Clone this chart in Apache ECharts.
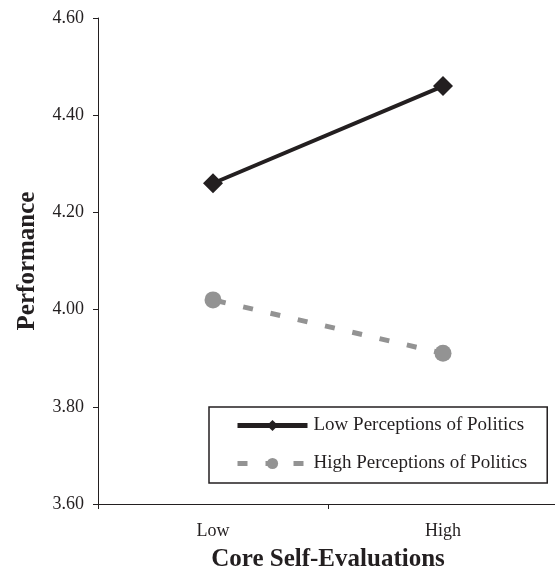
<!DOCTYPE html>
<html>
<head>
<meta charset="utf-8">
<script src="https://cdn.jsdelivr.net/npm/echarts@6/dist/echarts.min.js"></script>
<style>
  html, body { margin: 0; padding: 0; background: #fff; }
  #chart { width: 555px; height: 569px; }
</style>
</head>
<body>
<div id="chart"></div>
<script>
// values
const cseLevels = ['Low', 'High'];
const lowPolitics = [4.26, 4.46];
const highPolitics = [4.02, 3.91];
const seriesNames = ['Low Perceptions of Politics', 'High Perceptions of Politics'];

const serif = '"Liberation Serif", "Times New Roman", serif';
const ink = '#231f20';
const grey = '#939393';

const chart = echarts.init(document.getElementById('chart'));

const options = {
  animation: false,
  backgroundColor: '#fff',
  grid: { left: 98, top: 18, right: -3, bottom: 65, outerBoundsMode: 'none' },
  legend: {
    orient: 'vertical',
    left: 209,
    top: 407,
    padding: [9, 20, 10, 26],
    itemGap: 19,
    itemWidth: 70,
    itemHeight: 14,
    borderColor: ink,
    borderWidth: 1.5,
    backgroundColor: '#fff',
    textStyle: { fontFamily: serif, fontSize: 19, color: ink, padding: [0, 0, 0, 1] },
    data: [
      { name: seriesNames[0], lineStyle: { width: 5, color: ink }, itemStyle: { color: ink } },
      { name: seriesNames[1], lineStyle: { width: 5, color: grey, type: [10, 18], dashOffset: 0 }, itemStyle: { color: grey } }
    ]
  },
  xAxis: {
    type: 'category',
    data: cseLevels,
    boundaryGap: true,
    name: 'Core Self-Evaluations',
    nameLocation: 'middle',
    nameGap: 43,
    nameTextStyle: { fontFamily: serif, fontSize: 25, fontWeight: 'bold', color: ink },
    axisLine: { lineStyle: { color: ink, width: 1 } },
    axisTick: { show: true, length: 5, lineStyle: { color: ink } },
    axisLabel: { fontFamily: serif, fontSize: 18, color: ink, margin: 18 },
    splitLine: { show: false }
  },
  yAxis: {
    type: 'value',
    min: 3.6,
    max: 4.6,
    interval: 0.2,
    name: 'Performance',
    nameLocation: 'middle',
    nameGap: 58,
    nameTextStyle: { fontFamily: serif, fontSize: 25, fontWeight: 'bold', color: ink },
    axisLine: { show: true, lineStyle: { color: ink, width: 1 } },
    axisTick: { show: true, length: 5, lineStyle: { color: ink } },
    axisLabel: {
      fontFamily: serif, fontSize: 18, color: ink, margin: 14,
      formatter: (v) => v.toFixed(2)
    },
    splitLine: { show: false }
  },
  series: [
    {
      name: seriesNames[0],
      type: 'line',
      data: lowPolitics,
      symbol: 'diamond',
      symbolSize: 20,
      itemStyle: { color: ink },
      lineStyle: { color: ink, width: 4 }
    },
    {
      name: seriesNames[1],
      type: 'line',
      data: highPolitics,
      symbol: 'circle',
      symbolSize: 17,
      itemStyle: { color: grey },
      lineStyle: { color: grey, width: 5, type: [10, 18], dashOffset: 25 }
    }
  ]
};

chart.setOption(options);
</script>
</body>
</html>
